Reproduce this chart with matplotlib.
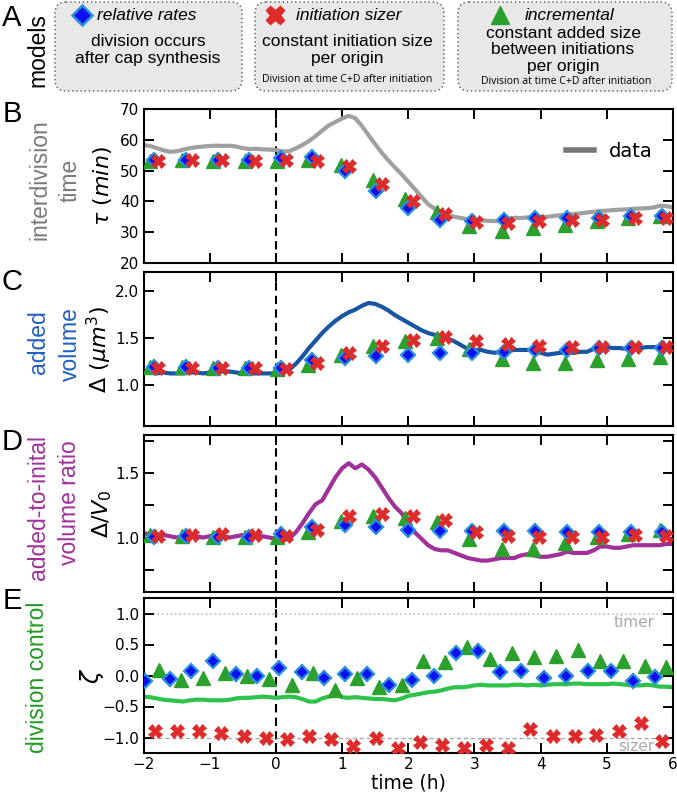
import numpy as np
import matplotlib
matplotlib.use('Agg')
import matplotlib.pyplot as plt
from matplotlib.patches import FancyBboxPatch
from matplotlib.lines import Line2D

# ---------------- data ----------------
t_data = [-2.0, -1.9, -1.8, -1.7, -1.6, -1.5, -1.4, -1.3, -1.2, -1.1,
          -1.0, -0.9, -0.8, -0.7, -0.6, -0.5, -0.4, -0.3, -0.2, -0.1,
          0.0, 0.1, 0.2, 0.3, 0.4, 0.5, 0.6, 0.7, 0.8, 0.9,
          1.0, 1.1, 1.2, 1.3, 1.4, 1.5, 1.6, 1.7, 1.8, 1.9,
          2.0, 2.1, 2.2, 2.3, 2.4, 2.5, 2.6, 2.7, 2.8, 2.9,
          3.0, 3.1, 3.2, 3.3, 3.4, 3.5, 3.6, 3.7, 3.8, 3.9,
          4.0, 4.1, 4.2, 4.3, 4.4, 4.5, 4.6, 4.7, 4.8, 4.9,
          5.0, 5.1, 5.2, 5.3, 5.4, 5.5, 5.6, 5.7, 5.8, 5.9, 6.0]

tau_data = [58.3, 58.0, 57.3, 56.6, 56.1, 56.3, 56.8, 57.3, 57.6, 57.8,
            58.0, 58.1, 58.0, 58.1, 57.8, 57.3, 57.0, 57.1, 56.9, 56.8,
            56.7, 56.2, 56.3, 57.2, 58.3, 59.6, 61.2, 63.0, 64.7, 65.8,
            66.9, 67.8, 67.0, 64.5, 61.5, 58.6, 55.8, 53.3, 51.0, 48.8,
            46.4, 44.0, 41.5, 39.1, 37.6, 36.5, 35.6, 35.0, 34.6, 34.2,
            34.0, 33.8, 33.7, 33.6, 33.6, 34.2, 34.7, 34.6, 34.8, 34.9,
            35.0, 35.0, 35.3, 35.5, 35.6, 35.9, 36.1, 36.4, 36.6, 36.9,
            37.0, 37.2, 37.3, 37.4, 37.6, 37.7, 37.8, 38.0, 38.6, 38.5, 38.0]

added_data = [1.14, 1.13, 1.12, 1.13, 1.12, 1.12, 1.12, 1.13, 1.13, 1.12,
              1.13, 1.14, 1.14, 1.14, 1.13, 1.12, 1.12, 1.12, 1.12, 1.12,
              1.12, 1.13, 1.16, 1.22, 1.30, 1.39, 1.47, 1.55, 1.62, 1.68,
              1.73, 1.77, 1.80, 1.84, 1.87, 1.86, 1.83, 1.79, 1.74, 1.70,
              1.66, 1.62, 1.58, 1.55, 1.53, 1.51, 1.49, 1.46, 1.42, 1.38,
              1.37, 1.37, 1.35, 1.34, 1.35, 1.36, 1.37, 1.37, 1.37, 1.37,
              1.34, 1.32, 1.33, 1.34, 1.34, 1.34, 1.35, 1.35, 1.38, 1.41,
              1.40, 1.39, 1.39, 1.38, 1.38, 1.39, 1.40, 1.40, 1.40, 1.40, 1.40]

ratio_data = [1.03, 1.03, 1.02, 1.02, 1.01, 1.00, 1.01, 1.02, 1.01, 1.00,
              1.01, 1.02, 1.01, 1.00, 1.01, 1.02, 1.01, 1.01, 1.01, 1.00,
              0.99, 0.98, 0.99, 1.04, 1.11, 1.19, 1.26, 1.29, 1.38, 1.47,
              1.54, 1.58, 1.54, 1.57, 1.53, 1.47, 1.39, 1.31, 1.24, 1.19,
              1.10, 1.04, 0.99, 0.94, 0.91, 0.90, 0.90, 0.88, 0.86, 0.84,
              0.83, 0.82, 0.82, 0.83, 0.84, 0.84, 0.84, 0.86, 0.87, 0.86,
              0.85, 0.85, 0.86, 0.87, 0.89, 0.88, 0.88, 0.88, 0.90, 0.93,
              0.93, 0.92, 0.92, 0.93, 0.94, 0.94, 0.94, 0.94, 0.94, 0.95, 0.95]

zeta_data = [-0.34, -0.35, -0.37, -0.39, -0.40, -0.41, -0.42, -0.40, -0.39, -0.39,
             -0.40, -0.40, -0.40, -0.39, -0.37, -0.36, -0.36, -0.35, -0.34, -0.35,
             -0.36, -0.35, -0.34, -0.35, -0.38, -0.42, -0.42, -0.37, -0.34, -0.29,
             -0.35, -0.36, -0.35, -0.36, -0.37, -0.38, -0.38, -0.39, -0.40, -0.37,
             -0.33, -0.31, -0.29, -0.27, -0.26, -0.24, -0.21, -0.19, -0.19, -0.18,
             -0.16, -0.15, -0.16, -0.16, -0.16, -0.16, -0.15, -0.15, -0.16, -0.15,
             -0.16, -0.15, -0.14, -0.14, -0.14, -0.13, -0.13, -0.14, -0.14, -0.14,
             -0.14, -0.13, -0.14, -0.15, -0.16, -0.16, -0.15, -0.16, -0.18, -0.18, -0.19]

# model times for panels B, C, D
t_tri = [-1.90, -1.42, -0.95, -0.47, 0.01, 0.49, 0.98, 1.46, 1.95, 2.43,
         2.92, 3.41, 3.89, 4.37, 4.85, 5.32, 5.81]
t_dia = [-1.84, -1.36, -0.88, -0.40, 0.08, 0.55, 1.04, 1.52, 2.00, 2.48,
         2.96, 3.44, 3.92, 4.40, 4.88, 5.36, 5.84]
t_crs = [-1.78, -1.27, -0.81, -0.32, 0.15, 0.62, 1.11, 1.60, 2.07, 2.55,
         3.02, 3.51, 3.98, 4.47, 4.93, 5.42, 5.90]

tau_tri = [53.1, 53.4, 53.1, 53.1, 53.1, 53.4, 51.8, 46.9, 40.8, 36.5,
           32.1, 30.5, 31.3, 32.3, 33.6, 34.7, 35.4]
tau_dia = [53.4, 53.4, 53.4, 53.4, 54.0, 54.5, 49.9, 43.4, 38.0, 34.0,
           33.6, 34.0, 34.5, 34.5, 34.7, 35.4, 35.4]
tau_crs = [53.1, 53.4, 53.4, 53.1, 53.4, 53.1, 51.6, 45.5, 40.1, 35.8,
           33.2, 32.9, 33.6, 34.0, 34.0, 34.7, 34.7]

added_tri = [1.19, 1.19, 1.18, 1.18, 1.17, 1.21, 1.32, 1.41, 1.46, 1.50,
             1.38, 1.27, 1.23, 1.23, 1.26, 1.27, 1.29]
added_dia = [1.19, 1.19, 1.18, 1.18, 1.18, 1.26, 1.28, 1.31, 1.32, 1.34,
             1.34, 1.35, 1.37, 1.37, 1.39, 1.39, 1.39]
added_crs = [1.18, 1.18, 1.18, 1.18, 1.17, 1.23, 1.34, 1.41, 1.48, 1.51,
             1.47, 1.43, 1.41, 1.40, 1.40, 1.40, 1.40]

ratio_tri = [1.02, 1.01, 1.005, 1.005, 1.005, 1.04, 1.13, 1.17, 1.15, 1.12,
             0.99, 0.91, 0.91, 0.96, 1.005, 1.03, 1.06]
ratio_dia = [1.005, 1.01, 1.005, 1.005, 1.03, 1.08, 1.10, 1.08, 1.06, 1.05,
             1.05, 1.05, 1.05, 1.04, 1.04, 1.04, 1.04]
ratio_crs = [1.01, 1.02, 1.03, 1.02, 1.01, 1.06, 1.17, 1.18, 1.17, 1.135,
             1.04, 1.01, 1.005, 1.005, 1.005, 1.02, 1.01]

# panel E model points
tE_dia = [-1.98, -1.60, -1.28, -0.95, -0.60, -0.28, 0.05, 0.39, 0.73, 1.05,
          1.38, 1.71, 2.06, 2.39, 2.72, 3.06, 3.38, 3.71, 4.05, 4.38,
          4.72, 5.06, 5.39, 5.73]
zeta_dia = [-0.09, -0.05, 0.08, 0.23, 0.02, 0.00, 0.12, 0.05, -0.04, 0.03,
            0.02, -0.16, -0.08, 0.00, 0.36, 0.39, 0.05, 0.07, -0.04, 0.00,
            0.07, 0.07, -0.09, -0.02]
tE_tri = [-1.76, -1.44, -1.10, -0.77, -0.44, -0.10, 0.24, 0.56, 0.89, 1.23,
          1.56, 1.90, 2.23, 2.55, 2.89, 3.23, 3.56, 3.90, 4.23, 4.57,
          4.90, 5.24, 5.57, 5.90]
zeta_tri = [0.09, -0.07, -0.04, 0.04, -0.01, -0.05, -0.15, 0.04, -0.24, -0.04,
            -0.19, -0.15, 0.24, 0.22, 0.46, 0.27, 0.36, 0.30, 0.32, 0.41,
            0.24, 0.23, 0.16, 0.13]
tE_crs = [-1.83, -1.49, -1.16, -0.83, -0.48, -0.15, 0.17, 0.50, 0.84, 1.17,
          1.51, 1.85, 2.18, 2.51, 2.84, 3.18, 3.51, 3.84, 4.18, 4.52,
          4.84, 5.19, 5.51, 5.84]
zeta_crs = [-0.89, -0.90, -0.90, -0.92, -0.98, -1.01, -1.03, -0.97, -1.03, -1.14,
            -1.00, -1.17, -1.07, -1.12, -1.17, -1.12, -1.17, -0.87, -0.98, -0.97,
            -0.96, -0.90, -0.76, -1.06]

x_ticks = [-2, -1, 0, 1, 2, 3, 4, 5, 6]

# ---------------- styles ----------------
BLUE = '#0a10f0'
LBLUE = '#2a90dc'
RED = '#dd2a2a'
GREEN = '#2ca02c'
SANS = 'Liberation Sans'

W, H = 677, 792
fig = plt.figure(figsize=(W / 100, H / 100), dpi=100)


def px_axes(l, t, r, b):
    return fig.add_axes([l / W, 1 - b / H, (r - l) / W, (b - t) / H])


axB = px_axes(143.5, 109, 673, 263)
axC = px_axes(143.5, 272, 673, 426)
axD = px_axes(143.5, 435, 673, 592)
axE = px_axes(143.5, 598, 673, 753)

for ax in (axB, axC, axD, axE):
    ax.set_xlim(-2, 6)
    ax.set_xticks(x_ticks)
    ax.tick_params(direction='in', top=True, right=True, length=7, width=1.4,
                   labelsize=11, pad=3)
    for s in ax.spines.values():
        s.set_linewidth(1.5)
    ax.axvline(0, color='k', ls='--', lw=1.5, dashes=(4, 2.5), zorder=1)
    if ax is not axE:
        ax.tick_params(labelbottom=False)


def plot_models(ax, td, vd, tx, vx, tt, vt, ms=1.0):
    ax.plot(tt, vt, ls='none', marker='^', ms=9.5 * ms, mfc=GREEN, mec=GREEN, zorder=3)
    ax.plot(td, vd, ls='none', marker='D', ms=7.5 * ms, mfc=BLUE, mec=LBLUE, mew=1.6, zorder=4)
    ax.plot(tx, vx, ls='none', marker='X', ms=9.5 * ms, mfc=RED, mec=RED, mew=0.5, zorder=5)


# B
axB.plot(t_data, tau_data, color='#a0a0a0', lw=3, zorder=2)
plot_models(axB, t_dia, tau_dia, t_crs, tau_crs, t_tri, tau_tri)
axB.set_ylim(20, 70)
axB.set_yticks([20, 30, 40, 50, 60, 70])
axB.set_ylabel(r'$\tau\ (min)$', fontsize=16)
axB.yaxis.set_label_coords(-0.055, 0.5)
axB.legend(handles=[Line2D([], [], color='#777777', lw=4)], labels=['data'],
           loc='upper right', bbox_to_anchor=(0.995, 0.9), frameon=False,
           fontsize=14, handlelength=1.4, handletextpad=0.8)

# C
axC.plot(t_data, added_data, color='#1a55a3', lw=3, zorder=2)
plot_models(axC, t_dia, added_dia, t_crs, added_crs, t_tri, added_tri)
axC.set_ylim(0.56, 2.2)
axC.set_yticks([1.0, 1.5, 2.0])
axC.set_ylabel(r'$\Delta\ (\mu m^3)$', fontsize=16)
axC.yaxis.set_label_coords(-0.055, 0.5)

# D
axD.plot(t_data, ratio_data, color='#a0309a', lw=3, zorder=2)
plot_models(axD, t_dia, ratio_dia, t_crs, ratio_crs, t_tri, ratio_tri)
axD.set_ylim(0.575, 1.80)
axD.set_yticks([0.75, 1.0, 1.25, 1.5, 1.75])
axD.set_yticklabels(['', '1.0', '', '1.5', ''])
axD.set_ylabel(r'$\Delta/V_0$', fontsize=16)
axD.yaxis.set_label_coords(-0.055, 0.5)

# E
axE.axhline(1.0, color='#bbbbbb', ls=':', lw=1.2, zorder=1)
axE.axhline(-1.0, color='#aaaaaa', ls='--', lw=1.0, dashes=(3, 2), zorder=1)
axE.plot(t_data, zeta_data, color='#2ec24a', lw=3, zorder=2)
plot_models(axE, tE_dia, zeta_dia, tE_crs, zeta_crs, tE_tri, zeta_tri)
axE.set_ylim(-1.25, 1.25)
axE.set_yticks([-1.0, -0.5, 0.0, 0.5, 1.0])
axE.set_ylabel(r'$\zeta$', fontsize=17)
axE.yaxis.set_label_coords(-0.07, 0.5)
axE.set_xlabel('time (h)', fontsize=13.5, labelpad=1)
axE.text(5.72, 0.86, 'timer', color='#aaaaaa', fontsize=11, ha='right', va='center')
axE.text(5.72, -1.14, 'sizer', color='#aaaaaa', fontsize=11, ha='right', va='center')

# ---------------- overlay (pixel coordinates) ----------------
ov = fig.add_axes([0, 0, 1, 1])
ov.set_xlim(0, W)
ov.set_ylim(H, 0)
ov.axis('off')

# panel letters
for lab, (x, y) in {'A': (12, 18), 'B': (12, 114), 'C': (12, 282),
                    'D': (12, 442), 'E': (12, 601)}.items():
    ov.text(x, y, lab, fontsize=21, family=SANS, ha='center', va='center')

ov.text(38, 50, 'models', fontsize=16.5, family=SANS, rotation=90, ha='center', va='center')

# outer coloured labels
ov.text(40, 180, 'interdivision', fontsize=16.5, family=SANS, color='#7a7a7a',
        rotation=90, ha='center', va='center')
ov.text(70, 180, 'time', fontsize=16.5, family=SANS, color='#7a7a7a',
        rotation=90, ha='center', va='center')
ov.text(38, 342, 'added', fontsize=16.5, family=SANS, color='#1f5fc0',
        rotation=90, ha='center', va='center')
ov.text(70, 344, 'volume', fontsize=16.5, family=SANS, color='#1f5fc0',
        rotation=90, ha='center', va='center')
ov.text(38, 508, 'added-to-inital', fontsize=16.5, family=SANS, color='#a0309a',
        rotation=90, ha='center', va='center')
ov.text(70, 503, 'volume ratio', fontsize=16.5, family=SANS, color='#a0309a',
        rotation=90, ha='center', va='center')
ov.text(38, 677, 'division control', fontsize=16.5, family=SANS, color='#1f9a1f',
        rotation=90, ha='center', va='center')

# model boxes
boxes = [(55, 2, 242, 91), (255, 2, 444, 91), (458, 2, 672, 91)]
rr = 11
for (x0, y0, x1, y1) in boxes:
    p = FancyBboxPatch((x0 + rr, y0 + rr), (x1 - x0) - 2 * rr, (y1 - y0) - 2 * rr,
                       boxstyle=f'round,pad={rr},rounding_size={rr}',
                       fc='#e8e8e8', ec='#555555', lw=1.0, ls=(0, (1, 2)))
    ov.add_patch(p)

title_fs = 12.5
body_fs = 12.5
small_fs = 7.6
# box 1
ov.plot([82], [15], ls='none', marker='D', ms=10.5, mfc=BLUE, mec=LBLUE, mew=1.8)
ov.text(97, 15, 'relative rates', fontsize=title_fs, family=SANS, style='italic',
        ha='left', va='center')
ov.text(148, 41, 'division occurs', fontsize=body_fs, family=SANS, ha='center', va='center')
ov.text(148, 58, 'after cap synthesis', fontsize=body_fs, family=SANS, ha='center', va='center')
# box 2
ov.plot([275], [15], ls='none', marker='X', ms=13, mfc=RED, mec=RED)
ov.text(296, 15, 'initiation sizer', fontsize=title_fs, family=SANS, style='italic',
        ha='left', va='center')
ov.text(347, 41, 'constant initiation size', fontsize=body_fs, family=SANS, ha='center', va='center')
ov.text(347, 58, 'per origin', fontsize=body_fs, family=SANS, ha='center', va='center')
ov.text(347, 80, 'Division at time C+D after initiation', fontsize=small_fs,
        family='Open Sans', ha='center', va='center')
# box 3
ov.plot([500], [15], ls='none', marker='^', ms=13.5, mfc=GREEN, mec=GREEN)
ov.text(525, 15, 'incremental', fontsize=title_fs, family=SANS, style='italic',
        ha='left', va='center')
ov.text(563, 33, 'constant added size', fontsize=body_fs, family=SANS, ha='center', va='center')
ov.text(563, 50, 'between initiations', fontsize=body_fs, family=SANS, ha='center', va='center')
ov.text(563, 66, 'per origin', fontsize=body_fs, family=SANS, ha='center', va='center')
ov.text(566, 81, 'Division at time C+D after initiation', fontsize=small_fs,
        family='Open Sans', ha='center', va='center')

fig.savefig('out.png', dpi=100)
